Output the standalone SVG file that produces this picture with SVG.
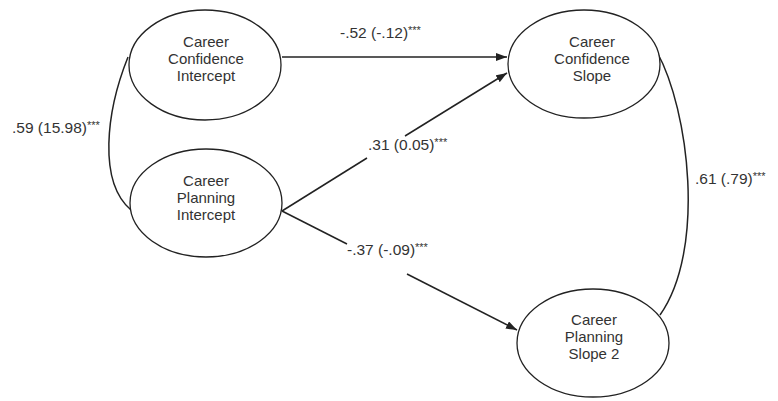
<svg xmlns="http://www.w3.org/2000/svg" width="778" height="401" viewBox="0 0 778 401">
<style>
.node ellipse{fill:#fff;stroke:#222;stroke-width:1.3}
.node text, .lbl{font-family:"Liberation Sans",Arial,sans-serif;font-size:15px;fill:#333}
.lbl{font-size:15.5px}
.node text{text-anchor:middle}
.conn path{fill:none;stroke:#222;stroke-width:1.5}
.ast{font-size:11px}
</style>
<defs>
<marker id="ah" markerUnits="userSpaceOnUse" markerWidth="12" markerHeight="10" refX="11" refY="4" orient="auto">
<path d="M0,0 L11,4 L0,8 Z" fill="#222"/>
</marker>
</defs>
<rect width="778" height="401" fill="#fff"/>
<g class="conn" id="connectors">
<path d="M282,57 L507,57" stroke-width="2.2" marker-end="url(#ah)"/>
<path d="M282,211 L367,158"/>
<path d="M405,136 L507,73" marker-end="url(#ah)"/>
<path d="M282,211 L347,244"/>
<path d="M407,274 L517,330" marker-end="url(#ah)"/>
<path d="M128,57 C106,112 98,182 131,210"/>
<path d="M657,52 C689,110 706,250 660,315"/>
</g>
<g class="node" id="cc-intercept">
<ellipse cx="205" cy="65" rx="76" ry="55"/>
<text x="206" y="47">Career</text>
<text x="206" y="64">Confidence</text>
<text x="206" y="81">Intercept</text>
</g>
<g class="node" id="cp-intercept">
<ellipse cx="206" cy="203" rx="76" ry="54"/>
<text x="206" y="186">Career</text>
<text x="206" y="203">Planning</text>
<text x="206" y="220">Intercept</text>
</g>
<g class="node" id="cc-slope">
<ellipse cx="584" cy="64" rx="76" ry="54"/>
<text x="592" y="47">Career</text>
<text x="592" y="64">Confidence</text>
<text x="592" y="81">Slope</text>
</g>
<g class="node" id="cp-slope2">
<ellipse cx="593" cy="343" rx="76" ry="54"/>
<text x="594" y="325">Career</text>
<text x="594" y="342">Planning</text>
<text x="594" y="359">Slope 2</text>
</g>
<g id="labels">
<text class="lbl" x="340" y="38">-.52 (-.12)<tspan class="ast" dy="-4">***</tspan></text>
<text class="lbl" x="12" y="133">.59 (15.98)<tspan class="ast" dy="-4">***</tspan></text>
<text class="lbl" x="368" y="150">.31 (0.05)<tspan class="ast" dy="-4">***</tspan></text>
<text class="lbl" x="347" y="255">-.37 (-.09)<tspan class="ast" dy="-4">***</tspan></text>
<text class="lbl" x="695" y="184">.61 (.79)<tspan class="ast" dy="-4">***</tspan></text>
</g>
</svg>
